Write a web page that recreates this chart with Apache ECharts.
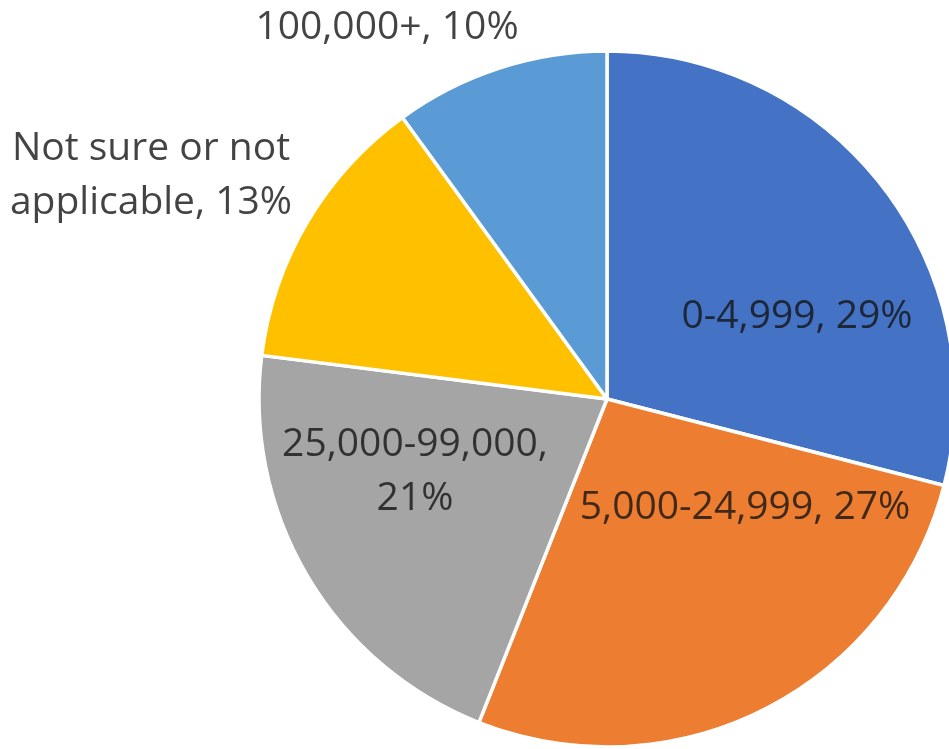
<!DOCTYPE html>
<html>
<head>
<meta charset="utf-8">
<script src="https://cdn.jsdelivr.net/npm/echarts@6/dist/echarts.min.js"></script>
<style>
html,body{margin:0;padding:0;background:#fff;}
#chart{width:949px;height:749px;}
</style>
</head>
<body>
<div id="chart"></div>
<script>
// Data
const categories = ['0-4,999', '5,000-24,999', '25,000-99,000', 'Not sure or not applicable', '100,000+'];
const shares = [29, 27, 21, 13, 10];
const colors = ['#4472C4', '#ED7D31', '#A5A5A5', '#FFC000', '#5B9BD5'];

// Label placement (pixel positions of label centres)
const labelPos = [[797, 317], [745, 508], [415, 472], [151, 176], [387, 28]];

const chart = echarts.init(document.getElementById('chart'), null, {renderer: 'canvas'});

function labelText(name, pct, i) {
  if (i === 2) return name + ',\n' + pct + '%';
  if (i === 3) return 'Not sure or not\napplicable, ' + pct + '%';
  return name + ', ' + pct + '%';
}

chart.setOption({
  animation: false,
  backgroundColor: '#ffffff',
  series: [{
    type: 'pie',
    center: [607, 399],
    radius: 348,
    startAngle: 90,
    clockwise: true,
    avoidLabelOverlap: false,
    itemStyle: {borderColor: '#ffffff', borderWidth: 3.5},
    label: {
      show: true,
      position: 'inside',
      fontFamily: 'Open Sans',
      fontSize: 39,
      color: 'rgba(20,20,20,0.8)',
      lineHeight: 54,
      align: 'center',
      formatter: function (p) { return labelText(p.name, Math.round(p.percent), p.dataIndex); }
    },
    labelLine: {show: false},
    labelLayout: function (params) {
      const pos = labelPos[params.dataIndex];
      return {x: pos[0], y: pos[1], align: 'center', verticalAlign: 'middle'};
    },
    emphasis: {disabled: true},
    data: categories.map((c, i) => ({name: c, value: shares[i], itemStyle: {color: colors[i]}}))
  }]
});
</script>
</body>
</html>
